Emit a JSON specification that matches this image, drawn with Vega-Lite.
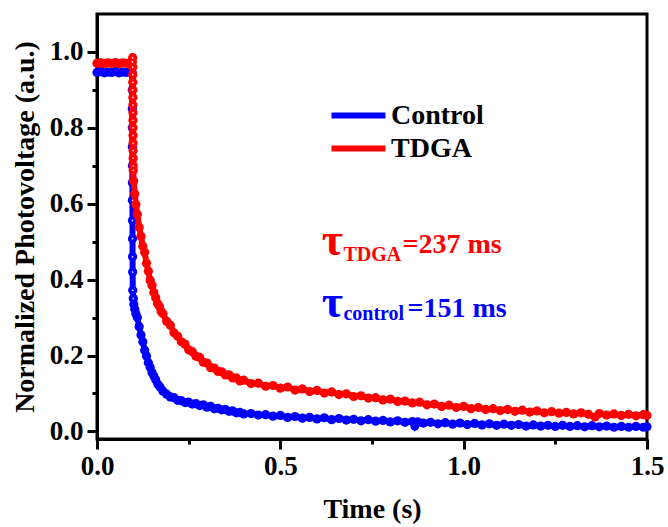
{
  "$schema": "https://vega.github.io/schema/vega-lite/v6.json",
  "width": 550,
  "height": 425,
  "autosize": "none",
  "padding": {"left": 97, "top": 14, "right": 21, "bottom": 88},
  "background": "white",
  "config": {
    "view": {"stroke": "black", "strokeWidth": 3},
    "axis": {
      "domainColor": "black",
      "domainWidth": 3,
      "tickColor": "black",
      "tickWidth": 3,
      "grid": false,
      "labelFont": "'Liberation Serif', 'Times New Roman', serif",
      "labelFontWeight": "bold",
      "labelFontSize": 27,
      "labelColor": "black",
      "labelFlush": false,
      "labelOverlap": false,
      "titleFont": "'Liberation Serif', 'Times New Roman', serif",
      "titleFontWeight": "bold",
      "titleFontSize": 28,
      "titleColor": "black"
    },
    "legend": {
      "labelFont": "'Liberation Serif', 'Times New Roman', serif",
      "labelFontWeight": "bold",
      "labelFontSize": 28,
      "labelColor": "black"
    }
  },
  "datasets": {
    "decay": [
      {"series": "Control", "t": 0.000, "v": 0.946},
      {"series": "Control", "t": 0.010, "v": 0.948},
      {"series": "Control", "t": 0.020, "v": 0.945},
      {"series": "Control", "t": 0.030, "v": 0.947},
      {"series": "Control", "t": 0.040, "v": 0.946},
      {"series": "Control", "t": 0.050, "v": 0.948},
      {"series": "Control", "t": 0.060, "v": 0.945},
      {"series": "Control", "t": 0.070, "v": 0.947},
      {"series": "Control", "t": 0.080, "v": 0.946},
      {"series": "Control", "t": 0.090, "v": 0.947},
      {"series": "Control", "t": 0.0960, "v": 0.946},
      {"series": "Control", "t": 0.0961, "v": 0.900},
      {"series": "Control", "t": 0.0962, "v": 0.850},
      {"series": "Control", "t": 0.0963, "v": 0.800},
      {"series": "Control", "t": 0.0964, "v": 0.750},
      {"series": "Control", "t": 0.0965, "v": 0.700},
      {"series": "Control", "t": 0.0966, "v": 0.655},
      {"series": "Control", "t": 0.0967, "v": 0.609},
      {"series": "Control", "t": 0.0968, "v": 0.556},
      {"series": "Control", "t": 0.0969, "v": 0.508},
      {"series": "Control", "t": 0.0970, "v": 0.460},
      {"series": "Control", "t": 0.0972, "v": 0.420},
      {"series": "Control", "t": 0.0975, "v": 0.372},
      {"series": "Control", "t": 0.0990, "v": 0.350},
      {"series": "Control", "t": 0.1005, "v": 0.335},
      {"series": "Control", "t": 0.103, "v": 0.322},
      {"series": "Control", "t": 0.106, "v": 0.310},
      {"series": "Control", "t": 0.110, "v": 0.300},
      {"series": "Control", "t": 0.115, "v": 0.276},
      {"series": "Control", "t": 0.120, "v": 0.254},
      {"series": "Control", "t": 0.125, "v": 0.236},
      {"series": "Control", "t": 0.130, "v": 0.214},
      {"series": "Control", "t": 0.135, "v": 0.199},
      {"series": "Control", "t": 0.140, "v": 0.181},
      {"series": "Control", "t": 0.145, "v": 0.169},
      {"series": "Control", "t": 0.150, "v": 0.155},
      {"series": "Control", "t": 0.155, "v": 0.146},
      {"series": "Control", "t": 0.160, "v": 0.136},
      {"series": "Control", "t": 0.166, "v": 0.124},
      {"series": "Control", "t": 0.172, "v": 0.117},
      {"series": "Control", "t": 0.180, "v": 0.106},
      {"series": "Control", "t": 0.190, "v": 0.098},
      {"series": "Control", "t": 0.200, "v": 0.091},
      {"series": "Control", "t": 0.210, "v": 0.089},
      {"series": "Control", "t": 0.220, "v": 0.082},
      {"series": "Control", "t": 0.230, "v": 0.081},
      {"series": "Control", "t": 0.240, "v": 0.076},
      {"series": "Control", "t": 0.250, "v": 0.077},
      {"series": "Control", "t": 0.260, "v": 0.072},
      {"series": "Control", "t": 0.270, "v": 0.073},
      {"series": "Control", "t": 0.280, "v": 0.068},
      {"series": "Control", "t": 0.290, "v": 0.070},
      {"series": "Control", "t": 0.300, "v": 0.064},
      {"series": "Control", "t": 0.310, "v": 0.066},
      {"series": "Control", "t": 0.320, "v": 0.060},
      {"series": "Control", "t": 0.330, "v": 0.061},
      {"series": "Control", "t": 0.340, "v": 0.057},
      {"series": "Control", "t": 0.350, "v": 0.058},
      {"series": "Control", "t": 0.360, "v": 0.053},
      {"series": "Control", "t": 0.370, "v": 0.054},
      {"series": "Control", "t": 0.380, "v": 0.049},
      {"series": "Control", "t": 0.390, "v": 0.050},
      {"series": "Control", "t": 0.400, "v": 0.046},
      {"series": "Control", "t": 0.420, "v": 0.047},
      {"series": "Control", "t": 0.440, "v": 0.043},
      {"series": "Control", "t": 0.460, "v": 0.044},
      {"series": "Control", "t": 0.480, "v": 0.040},
      {"series": "Control", "t": 0.500, "v": 0.042},
      {"series": "Control", "t": 0.520, "v": 0.037},
      {"series": "Control", "t": 0.540, "v": 0.039},
      {"series": "Control", "t": 0.560, "v": 0.035},
      {"series": "Control", "t": 0.580, "v": 0.037},
      {"series": "Control", "t": 0.600, "v": 0.033},
      {"series": "Control", "t": 0.620, "v": 0.036},
      {"series": "Control", "t": 0.640, "v": 0.031},
      {"series": "Control", "t": 0.660, "v": 0.034},
      {"series": "Control", "t": 0.680, "v": 0.030},
      {"series": "Control", "t": 0.700, "v": 0.032},
      {"series": "Control", "t": 0.720, "v": 0.028},
      {"series": "Control", "t": 0.740, "v": 0.031},
      {"series": "Control", "t": 0.760, "v": 0.027},
      {"series": "Control", "t": 0.780, "v": 0.029},
      {"series": "Control", "t": 0.800, "v": 0.025},
      {"series": "Control", "t": 0.820, "v": 0.028},
      {"series": "Control", "t": 0.840, "v": 0.024},
      {"series": "Control", "t": 0.860, "v": 0.026},
      {"series": "Control", "t": 0.867, "v": 0.014},
      {"series": "Control", "t": 0.875, "v": 0.025},
      {"series": "Control", "t": 0.890, "v": 0.022},
      {"series": "Control", "t": 0.910, "v": 0.024},
      {"series": "Control", "t": 0.930, "v": 0.020},
      {"series": "Control", "t": 0.950, "v": 0.023},
      {"series": "Control", "t": 0.970, "v": 0.019},
      {"series": "Control", "t": 0.990, "v": 0.022},
      {"series": "Control", "t": 1.010, "v": 0.018},
      {"series": "Control", "t": 1.030, "v": 0.021},
      {"series": "Control", "t": 1.050, "v": 0.017},
      {"series": "Control", "t": 1.070, "v": 0.020},
      {"series": "Control", "t": 1.090, "v": 0.016},
      {"series": "Control", "t": 1.110, "v": 0.019},
      {"series": "Control", "t": 1.130, "v": 0.016},
      {"series": "Control", "t": 1.150, "v": 0.018},
      {"series": "Control", "t": 1.170, "v": 0.014},
      {"series": "Control", "t": 1.190, "v": 0.017},
      {"series": "Control", "t": 1.210, "v": 0.014},
      {"series": "Control", "t": 1.230, "v": 0.016},
      {"series": "Control", "t": 1.250, "v": 0.013},
      {"series": "Control", "t": 1.270, "v": 0.016},
      {"series": "Control", "t": 1.290, "v": 0.013},
      {"series": "Control", "t": 1.310, "v": 0.015},
      {"series": "Control", "t": 1.330, "v": 0.012},
      {"series": "Control", "t": 1.350, "v": 0.015},
      {"series": "Control", "t": 1.370, "v": 0.012},
      {"series": "Control", "t": 1.390, "v": 0.014},
      {"series": "Control", "t": 1.410, "v": 0.011},
      {"series": "Control", "t": 1.430, "v": 0.013},
      {"series": "Control", "t": 1.450, "v": 0.011},
      {"series": "Control", "t": 1.470, "v": 0.013},
      {"series": "Control", "t": 1.490, "v": 0.011},
      {"series": "Control", "t": 1.500, "v": 0.012},
      {"series": "TDGA", "t": 0.000, "v": 0.970},
      {"series": "TDGA", "t": 0.010, "v": 0.972},
      {"series": "TDGA", "t": 0.020, "v": 0.969},
      {"series": "TDGA", "t": 0.030, "v": 0.971},
      {"series": "TDGA", "t": 0.040, "v": 0.970},
      {"series": "TDGA", "t": 0.050, "v": 0.972},
      {"series": "TDGA", "t": 0.060, "v": 0.969},
      {"series": "TDGA", "t": 0.070, "v": 0.971},
      {"series": "TDGA", "t": 0.080, "v": 0.970},
      {"series": "TDGA", "t": 0.090, "v": 0.971},
      {"series": "TDGA", "t": 0.0965, "v": 0.974},
      {"series": "TDGA", "t": 0.0972, "v": 0.985},
      {"series": "TDGA", "t": 0.0974, "v": 0.960},
      {"series": "TDGA", "t": 0.0975, "v": 0.940},
      {"series": "TDGA", "t": 0.0976, "v": 0.920},
      {"series": "TDGA", "t": 0.0977, "v": 0.900},
      {"series": "TDGA", "t": 0.0978, "v": 0.880},
      {"series": "TDGA", "t": 0.0979, "v": 0.860},
      {"series": "TDGA", "t": 0.0980, "v": 0.840},
      {"series": "TDGA", "t": 0.0981, "v": 0.820},
      {"series": "TDGA", "t": 0.0982, "v": 0.800},
      {"series": "TDGA", "t": 0.0983, "v": 0.780},
      {"series": "TDGA", "t": 0.0984, "v": 0.760},
      {"series": "TDGA", "t": 0.0985, "v": 0.740},
      {"series": "TDGA", "t": 0.0986, "v": 0.720},
      {"series": "TDGA", "t": 0.0987, "v": 0.700},
      {"series": "TDGA", "t": 0.0988, "v": 0.688},
      {"series": "TDGA", "t": 0.100, "v": 0.660},
      {"series": "TDGA", "t": 0.103, "v": 0.626},
      {"series": "TDGA", "t": 0.106, "v": 0.598},
      {"series": "TDGA", "t": 0.110, "v": 0.572},
      {"series": "TDGA", "t": 0.115, "v": 0.538},
      {"series": "TDGA", "t": 0.120, "v": 0.514},
      {"series": "TDGA", "t": 0.125, "v": 0.488},
      {"series": "TDGA", "t": 0.130, "v": 0.472},
      {"series": "TDGA", "t": 0.135, "v": 0.443},
      {"series": "TDGA", "t": 0.140, "v": 0.422},
      {"series": "TDGA", "t": 0.145, "v": 0.398},
      {"series": "TDGA", "t": 0.150, "v": 0.385},
      {"series": "TDGA", "t": 0.155, "v": 0.366},
      {"series": "TDGA", "t": 0.160, "v": 0.352},
      {"series": "TDGA", "t": 0.165, "v": 0.338},
      {"series": "TDGA", "t": 0.170, "v": 0.330},
      {"series": "TDGA", "t": 0.175, "v": 0.316},
      {"series": "TDGA", "t": 0.180, "v": 0.310},
      {"series": "TDGA", "t": 0.190, "v": 0.290},
      {"series": "TDGA", "t": 0.200, "v": 0.280},
      {"series": "TDGA", "t": 0.210, "v": 0.260},
      {"series": "TDGA", "t": 0.220, "v": 0.251},
      {"series": "TDGA", "t": 0.230, "v": 0.236},
      {"series": "TDGA", "t": 0.240, "v": 0.230},
      {"series": "TDGA", "t": 0.250, "v": 0.215},
      {"series": "TDGA", "t": 0.260, "v": 0.210},
      {"series": "TDGA", "t": 0.270, "v": 0.198},
      {"series": "TDGA", "t": 0.280, "v": 0.195},
      {"series": "TDGA", "t": 0.290, "v": 0.182},
      {"series": "TDGA", "t": 0.300, "v": 0.180},
      {"series": "TDGA", "t": 0.310, "v": 0.168},
      {"series": "TDGA", "t": 0.320, "v": 0.167},
      {"series": "TDGA", "t": 0.330, "v": 0.158},
      {"series": "TDGA", "t": 0.340, "v": 0.157},
      {"series": "TDGA", "t": 0.350, "v": 0.149},
      {"series": "TDGA", "t": 0.360, "v": 0.149},
      {"series": "TDGA", "t": 0.370, "v": 0.141},
      {"series": "TDGA", "t": 0.380, "v": 0.141},
      {"series": "TDGA", "t": 0.390, "v": 0.133},
      {"series": "TDGA", "t": 0.400, "v": 0.135},
      {"series": "TDGA", "t": 0.420, "v": 0.126},
      {"series": "TDGA", "t": 0.440, "v": 0.127},
      {"series": "TDGA", "t": 0.460, "v": 0.119},
      {"series": "TDGA", "t": 0.480, "v": 0.121},
      {"series": "TDGA", "t": 0.500, "v": 0.114},
      {"series": "TDGA", "t": 0.520, "v": 0.117},
      {"series": "TDGA", "t": 0.540, "v": 0.109},
      {"series": "TDGA", "t": 0.560, "v": 0.112},
      {"series": "TDGA", "t": 0.580, "v": 0.105},
      {"series": "TDGA", "t": 0.600, "v": 0.108},
      {"series": "TDGA", "t": 0.620, "v": 0.101},
      {"series": "TDGA", "t": 0.640, "v": 0.104},
      {"series": "TDGA", "t": 0.660, "v": 0.097},
      {"series": "TDGA", "t": 0.680, "v": 0.099},
      {"series": "TDGA", "t": 0.700, "v": 0.092},
      {"series": "TDGA", "t": 0.720, "v": 0.094},
      {"series": "TDGA", "t": 0.740, "v": 0.088},
      {"series": "TDGA", "t": 0.760, "v": 0.089},
      {"series": "TDGA", "t": 0.780, "v": 0.083},
      {"series": "TDGA", "t": 0.800, "v": 0.085},
      {"series": "TDGA", "t": 0.820, "v": 0.079},
      {"series": "TDGA", "t": 0.840, "v": 0.080},
      {"series": "TDGA", "t": 0.860, "v": 0.075},
      {"series": "TDGA", "t": 0.880, "v": 0.077},
      {"series": "TDGA", "t": 0.900, "v": 0.070},
      {"series": "TDGA", "t": 0.920, "v": 0.072},
      {"series": "TDGA", "t": 0.940, "v": 0.066},
      {"series": "TDGA", "t": 0.960, "v": 0.069},
      {"series": "TDGA", "t": 0.980, "v": 0.063},
      {"series": "TDGA", "t": 1.000, "v": 0.066},
      {"series": "TDGA", "t": 1.020, "v": 0.060},
      {"series": "TDGA", "t": 1.040, "v": 0.063},
      {"series": "TDGA", "t": 1.060, "v": 0.058},
      {"series": "TDGA", "t": 1.080, "v": 0.060},
      {"series": "TDGA", "t": 1.100, "v": 0.055},
      {"series": "TDGA", "t": 1.120, "v": 0.058},
      {"series": "TDGA", "t": 1.140, "v": 0.053},
      {"series": "TDGA", "t": 1.160, "v": 0.056},
      {"series": "TDGA", "t": 1.180, "v": 0.051},
      {"series": "TDGA", "t": 1.200, "v": 0.054},
      {"series": "TDGA", "t": 1.220, "v": 0.049},
      {"series": "TDGA", "t": 1.240, "v": 0.052},
      {"series": "TDGA", "t": 1.260, "v": 0.048},
      {"series": "TDGA", "t": 1.280, "v": 0.050},
      {"series": "TDGA", "t": 1.300, "v": 0.046},
      {"series": "TDGA", "t": 1.320, "v": 0.049},
      {"series": "TDGA", "t": 1.340, "v": 0.045},
      {"series": "TDGA", "t": 1.358, "v": 0.038},
      {"series": "TDGA", "t": 1.370, "v": 0.047},
      {"series": "TDGA", "t": 1.390, "v": 0.043},
      {"series": "TDGA", "t": 1.410, "v": 0.046},
      {"series": "TDGA", "t": 1.430, "v": 0.042},
      {"series": "TDGA", "t": 1.450, "v": 0.045},
      {"series": "TDGA", "t": 1.470, "v": 0.041},
      {"series": "TDGA", "t": 1.490, "v": 0.044},
      {"series": "TDGA", "t": 1.500, "v": 0.042}
    ],
    "tauSymbol": [
      {"series": "TDGA", "label": "τ", "t": 0.613, "v": 0.464},
      {"series": "Control", "label": "τ", "t": 0.613, "v": 0.301}
    ],
    "tauSubscript": [
      {"series": "TDGA", "label": "TDGA", "t": 0.672, "v": 0.448},
      {"series": "Control", "label": "control", "t": 0.672, "v": 0.293}
    ],
    "tauValue": [
      {"series": "TDGA", "label": "=237 ms", "t": 0.833, "v": 0.469},
      {"series": "Control", "label": "=151 ms", "t": 0.847, "v": 0.301}
    ]
  },
  "encoding": {
    "x": {
      "field": "t",
      "type": "quantitative",
      "scale": {"domain": [0, 1.5], "nice": false, "zero": false},
      "axis": {
        "title": "Time (s)",
        "values": [0, 0.25, 0.5, 0.75, 1, 1.25, 1.5],
        "labelExpr": "datum.value % 0.5 == 0 ? format(datum.value, '.1f') : ''",
        "tickSize": {"condition": {"test": "datum.value % 0.5 != 0", "value": 5}, "value": 10},
        "labelPadding": 4,
        "titlePadding": 16
      }
    },
    "y": {
      "field": "v",
      "type": "quantitative",
      "scale": {"domain": [-0.02, 1.1], "nice": false, "zero": false},
      "axis": {
        "title": "Normalized Photovoltage (a.u.)",
        "values": [0, 0.1, 0.2, 0.3, 0.4, 0.5, 0.6, 0.7, 0.8, 0.9, 1.0],
        "labelExpr": "round(datum.value * 10) % 2 == 0 ? format(datum.value, '.1f') : ''",
        "tickSize": {"condition": {"test": "round(datum.value * 10) % 2 == 1", "value": 5}, "value": 10},
        "labelPadding": 4,
        "titlePadding": 10
      }
    },
    "color": {
      "field": "series",
      "type": "nominal",
      "scale": {"domain": ["Control", "TDGA"], "range": ["#0000ff", "#ff0000"]},
      "legend": {
        "orient": "none",
        "legendX": 245,
        "legendY": 85,
        "title": null,
        "labelOffset": 16,
        "symbolType": "M-2,0H2",
        "symbolStrokeWidth": 6,
        "symbolSize": 729,
        "rowPadding": 2,
        "padding": 0
      }
    }
  },
  "layer": [
    {
      "data": {"name": "decay"},
      "transform": [{"filter": "datum.series == 'Control'"}],
      "mark": {"type": "line", "strokeWidth": 6, "point": {"filled": true, "size": 85}}
    },
    {
      "data": {"name": "decay"},
      "transform": [{"filter": "datum.series == 'TDGA'"}],
      "mark": {"type": "line", "strokeWidth": 6, "point": {"filled": true, "size": 85}}
    },
    {
      "data": {"name": "decay"},
      "transform": [{"filter": "datum.t > 0.0955 && datum.t < 0.0995 && (datum.series == 'TDGA' || datum.v < 0.65)"}],
      "mark": {"type": "point", "filled": true, "size": 3, "opacity": 0.9},
      "encoding": {"color": {"value": "white"}}
    },
    {
      "data": {"name": "tauSymbol"},
      "mark": {"type": "text", "align": "left", "baseline": "alphabetic", "font": "'Liberation Serif', 'Times New Roman', serif", "fontWeight": "bold", "fontSize": 46},
      "encoding": {"text": {"field": "label"}}
    },
    {
      "data": {"name": "tauSubscript"},
      "mark": {"type": "text", "align": "left", "baseline": "alphabetic", "font": "'Liberation Serif', 'Times New Roman', serif", "fontWeight": "bold", "fontSize": 20},
      "encoding": {"text": {"field": "label"}}
    },
    {
      "data": {"name": "tauValue"},
      "mark": {"type": "text", "align": "left", "baseline": "alphabetic", "font": "'Liberation Serif', 'Times New Roman', serif", "fontWeight": "bold", "fontSize": 28},
      "encoding": {"text": {"field": "label"}}
    }
  ]
}
